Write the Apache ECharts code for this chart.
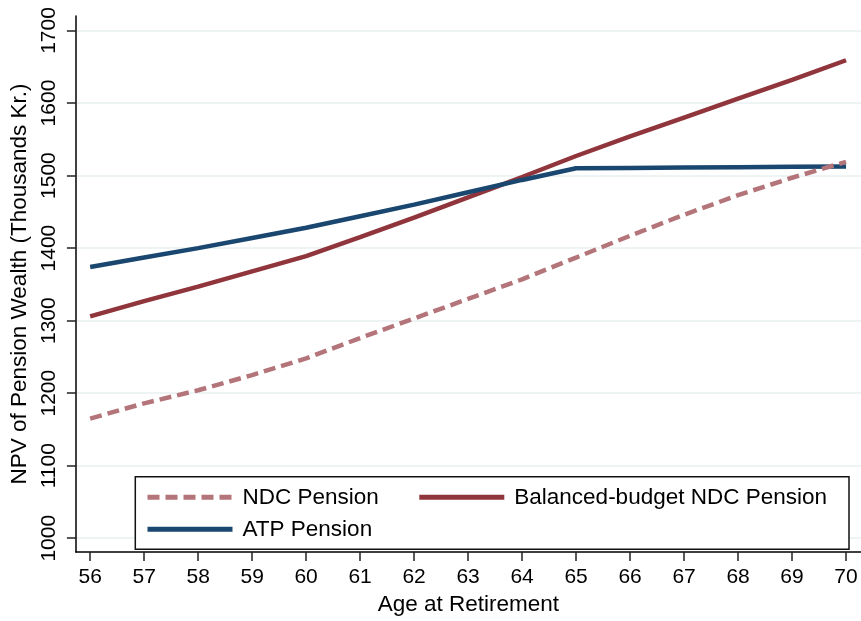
<!DOCTYPE html>
<html>
<head>
<meta charset="utf-8">
<script src="https://cdn.jsdelivr.net/npm/echarts@6/dist/echarts.min.js"></script>
<style>
  html, body { margin: 0; padding: 0; background: #fff; }
  #chart { width: 861px; height: 621px; }
</style>
</head>
<body>
<div id="chart"></div>
<script>
const ages = [56, 57, 58, 59, 60, 61, 62, 63, 64, 65, 66, 67, 68, 69, 70];
const ndcPension = [1165, 1186, 1204, 1225, 1248, 1276, 1303, 1330, 1357, 1387, 1417, 1446, 1473, 1497, 1519];
const balancedPension = [1306, 1327, 1347, 1368, 1389, 1415, 1442, 1470, 1498, 1527, 1554, 1580, 1606, 1632, 1659];
const atpPension = [1374, 1387, 1400, 1414, 1428, 1444, 1460, 1477, 1494, 1510, 1510.5, 1511, 1511.5, 1512, 1512.5];
const xTicks = [56, 57, 58, 59, 60, 61, 62, 63, 64, 65, 66, 67, 68, 69, 70];
const yTicks = [1000, 1100, 1200, 1300, 1400, 1500, 1600, 1700];
const seriesNames = ['NDC Pension', 'Balanced-budget NDC Pension', 'ATP Pension'];

const FONT = "'Liberation Sans', Arial, sans-serif";
const NDC_COLOR = '#b4757a', BB_COLOR = '#90353b', ATP_COLOR = '#1a476f';
const DASH = [12, 6];
const LW = 4.5;
const pairs = (xs, ys) => xs.map((x, i) => [x, ys[i]]);

const chart = echarts.init(document.getElementById('chart'), null, { renderer: 'canvas' });
chart.setOption({
  animation: false,
  backgroundColor: '#ffffff',
  grid: { left: 73.7, right: 0, top: 16, bottom: 63.3, containLabel: false },
  xAxis: {
    type: 'value',
    min: 55.736, max: 70.277,
    name: 'Age at Retirement',
    nameLocation: 'middle',
    nameGap: 34,
    nameTextStyle: { fontFamily: FONT, fontSize: 22.5, color: '#000' },
    axisLine: { show: true, onZero: false, lineStyle: { color: '#000', width: 1.5 } },
    axisTick: { show: true, length: 9, lineStyle: { color: '#222', width: 1.5 }, customValues: xTicks },
    axisLabel: { fontFamily: FONT, fontSize: 21, color: '#000', margin: 15, customValues: xTicks,
      formatter: v => String(v) },
    splitLine: { show: false }
  },
  yAxis: {
    type: 'value',
    min: 980.9, max: 1720,
    name: 'NPV of Pension Wealth (Thousands Kr.)',
    nameLocation: 'middle',
    nameGap: 35,
    nameTextStyle: { fontFamily: FONT, fontSize: 22.5, color: '#000' },
    axisLine: { show: true, onZero: false, lineStyle: { color: '#000', width: 1.5 } },
    axisTick: { show: true, length: 9, lineStyle: { color: '#222', width: 1.5 }, customValues: yTicks },
    axisLabel: { fontFamily: FONT, fontSize: 21, color: '#000', margin: 16, rotate: 90, customValues: yTicks,
      formatter: v => String(v) },
    splitLine: { show: true, lineStyle: { color: '#e8eff1', width: 1.5 } }
  },
  legend: {
    data: [
      { name: seriesNames[0], textStyle: { padding: [0, 30, 0, 5] },
        lineStyle: { color: NDC_COLOR, width: 5, type: DASH, cap: 'butt' } },
      { name: seriesNames[1], textStyle: { padding: [0, 0, 0, 5] },
        lineStyle: { color: BB_COLOR, width: 5, type: 'solid', cap: 'butt' } },
      { name: seriesNames[2], textStyle: { padding: [0, 0, 0, 5] },
        lineStyle: { color: ATP_COLOR, width: 5, type: 'solid', cap: 'butt' } }
    ],
    orient: 'horizontal',
    left: 135.3,
    top: 476.7,
    width: 700,
    padding: [8.6, 22, 8, 9.7],
    itemWidth: 85,
    itemHeight: 14,
    itemGap: 8,
    itemStyle: { opacity: 0 },
    lineStyle: { width: 5, cap: 'butt' },
    borderColor: '#111',
    borderWidth: 1.5,
    borderRadius: 0,
    backgroundColor: '#fff',
    textStyle: { fontFamily: FONT, fontSize: 22.5, color: '#000', lineHeight: 24 }
  },
  series: [
    {
      name: seriesNames[1], type: 'line', data: pairs(ages, balancedPension),
      symbol: 'none', smooth: false, z: 2,
      lineStyle: { color: BB_COLOR, width: LW, cap: 'butt' },
      itemStyle: { color: BB_COLOR }
    },
    {
      name: seriesNames[2], type: 'line', data: pairs(ages, atpPension),
      symbol: 'none', smooth: false, z: 3,
      lineStyle: { color: ATP_COLOR, width: LW, cap: 'butt' },
      itemStyle: { color: ATP_COLOR }
    },
    {
      name: seriesNames[0], type: 'line', data: pairs(ages, ndcPension),
      symbol: 'none', smooth: false, z: 4,
      lineStyle: { color: NDC_COLOR, width: LW, type: DASH, cap: 'butt' },
      itemStyle: { color: NDC_COLOR }
    }
  ]
});
</script>
</body>
</html>
